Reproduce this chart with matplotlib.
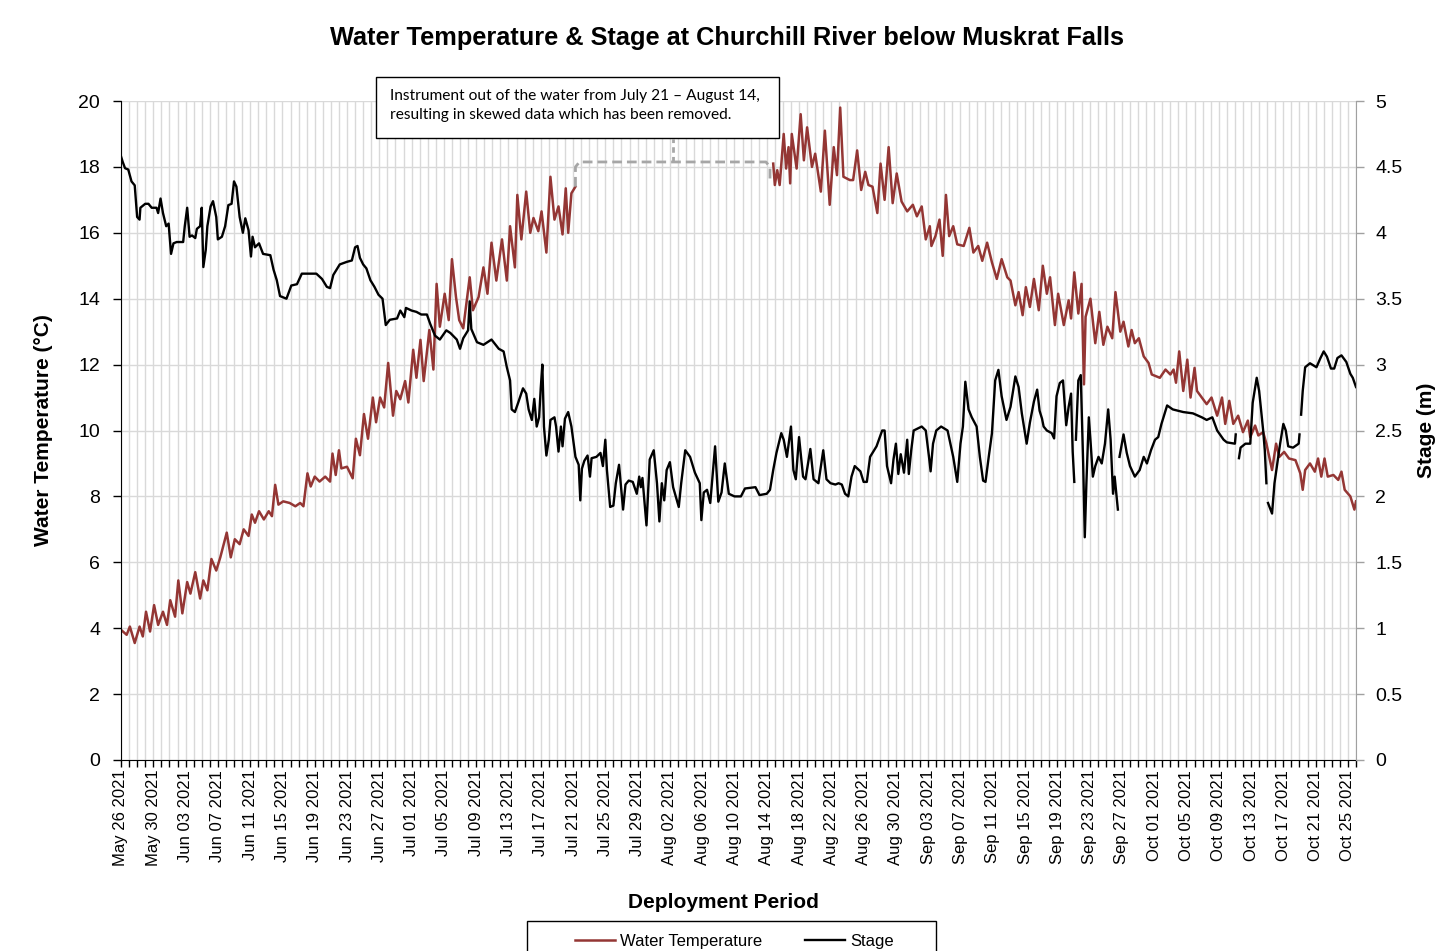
import datetime as dt

import matplotlib
matplotlib.use('Agg')
import matplotlib.pyplot as plt
import numpy as np
from matplotlib.patches import Rectangle
from matplotlib.ticker import FuncFormatter, MultipleLocator

plt.rcParams['font.family'] = ['Liberation Sans', 'DejaVu Sans']

start = dt.date(2021, 5, 26)
n_days = 153

# days since May 26 2021 00:00 / water temperature (degC); nan = instrument out of water
temp_day = [0.0, 0.7, 1.1, 1.7, 2.3, 2.7, 3.1, 3.6, 4.1, 4.6, 5.2, 5.7, 6.1, 6.7, 7.1, 7.6,
            8.2, 8.6, 9.2, 9.8, 10.2, 10.7, 11.2, 11.8, 12.3, 13.1, 13.6, 14.1, 14.7, 15.2,
            15.8, 16.2, 16.6, 17.1, 17.7, 18.3, 18.7, 19.1, 19.5, 20.1, 20.9, 21.6, 22.2,
            22.6, 23.1, 23.5, 24.0, 24.6, 25.3, 25.9, 26.2, 26.6, 27.0, 27.3, 28.0, 28.7,
            29.1, 29.6, 30.1, 30.6, 31.2, 31.6, 32.1, 32.6, 33.1, 33.7, 34.1, 34.6, 35.2,
            35.6, 36.2, 36.6, 37.1, 37.5, 38.2, 38.7, 39.1, 39.5, 40.1, 40.6, 41.0, 41.5,
            41.9, 42.4, 43.2, 43.6, 44.3, 44.9, 45.4, 45.9, 46.5, 47.2, 47.8, 48.2, 48.8,
            49.1, 49.6, 50.2, 50.7, 51.1, 51.7, 52.1, 52.7, 53.2, 53.7, 54.2, 54.7, 55.1,
            55.4, 55.8, 56.3, 68.0,
            80.8, 81.0, 81.3, 81.6, 82.1, 82.4, 82.7, 82.9, 83.1, 83.7, 84.2, 84.6, 85.0,
            85.6, 86.0, 86.7, 87.2, 87.8, 88.3, 88.7, 89.1, 89.5, 90.3, 90.7, 91.2, 91.7,
            92.2, 92.6, 93.1, 93.7, 94.1, 94.6, 95.1, 95.6, 96.1, 96.7, 97.4, 98.1, 98.6,
            99.2, 99.7, 100.2, 100.4, 100.9, 101.4, 101.8, 102.2, 102.6, 103.1, 103.6,
            104.4, 105.1, 105.6, 106.2, 106.7, 107.3, 107.9, 108.5, 109.1, 109.8, 110.2,
            110.8, 111.2, 111.7, 112.1, 112.6, 113.1, 113.7, 114.2, 114.7, 115.1, 115.7,
            116.1, 116.8, 117.4, 117.7, 118.1, 118.6, 119.0, 119.3, 119.5, 120.1, 120.7,
            121.2, 121.7, 122.2, 122.8, 123.2, 123.8, 124.2, 124.8, 125.2, 125.6, 126.1,
            126.7, 127.3, 127.7, 128.7, 129.4, 130.0, 130.4, 130.7, 131.1, 131.6, 132.1,
            132.5, 133.0, 133.3, 133.9, 134.5, 135.1, 135.8, 136.4, 136.8, 137.3, 137.8,
            138.4, 139.0, 139.6, 139.9, 140.5, 140.9, 141.5, 141.9, 142.6, 143.1, 143.5,
            144.1, 144.7, 145.5, 146.1, 146.4, 146.7, 147.3, 147.9, 148.3, 148.7, 149.1,
            149.5, 150.2, 150.8, 151.2, 151.6, 152.3, 152.8, 153.0]
temp_c = [3.95, 3.8, 4.05, 3.55, 4.05, 3.75, 4.5, 3.9, 4.7, 4.1, 4.5, 4.1, 4.85, 4.35, 5.45,
          4.45, 5.4, 5.05, 5.7, 4.9, 5.45, 5.15, 6.1, 5.75, 6.15, 6.9, 6.15, 6.7, 6.55, 7.0,
          6.8, 7.45, 7.2, 7.55, 7.3, 7.55, 7.4, 8.35, 7.75, 7.85, 7.8, 7.7, 7.8, 7.7, 8.7,
          8.3, 8.6, 8.45, 8.6, 8.45, 9.3, 8.65, 9.4, 8.85, 8.9, 8.55, 9.75, 9.25, 10.5,
          9.75, 11.0, 10.25, 11.0, 10.7, 12.05, 10.45, 11.2, 10.95, 11.5, 10.85, 12.45,
          11.6, 12.75, 11.5, 13.05, 11.85, 14.45, 13.15, 14.15, 13.35, 15.2, 14.05, 13.35,
          13.1, 14.65, 13.65, 14.05, 14.95, 14.15, 15.7, 14.55, 15.8, 14.55, 16.2, 14.95,
          17.15, 15.8, 17.25, 16.0, 16.45, 16.05, 16.65, 15.4, 17.7, 16.4, 16.8, 15.95,
          17.35, 16.0, 17.2, 17.4, np.nan,
          18.1, 17.45, 17.9, 17.45, 19.0, 17.95, 18.6, 17.5, 19.0, 17.95, 19.6, 18.2, 19.2,
          18.0, 18.4, 17.25, 19.1, 16.85, 18.6, 17.75, 19.8, 17.7, 17.6, 17.6, 18.5, 17.3,
          17.85, 17.45, 17.4, 16.6, 18.1, 17.0, 18.6, 16.9, 17.8, 16.95, 16.65, 16.85,
          16.5, 16.8, 15.8, 16.2, 15.6, 15.9, 16.4, 15.3, 17.15, 15.9, 16.2, 15.65, 15.6,
          16.15, 15.4, 15.6, 15.15, 15.7, 15.1, 14.6, 15.2, 14.65, 14.55, 13.8, 14.2, 13.5,
          14.35, 13.75, 14.6, 13.65, 15.0, 14.15, 14.65, 13.2, 14.15, 13.2, 13.95, 13.4,
          14.8, 13.55, 14.45, 11.4, 13.45, 14.0, 12.65, 13.6, 12.6, 13.15, 12.8, 14.2,
          13.0, 13.3, 12.55, 13.05, 12.65, 12.8, 12.25, 12.05, 11.7, 11.6, 11.85, 11.7,
          11.85, 11.45, 12.4, 11.2, 12.15, 11.0, 11.9, 11.2, 11.0, 10.8, 11.0, 10.45, 11.0,
          10.2, 10.9, 10.2, 10.45, 9.95, 10.3, 9.8, 10.15, 9.85, 9.95, 9.6, 8.8, 9.6, 9.2,
          9.35, 9.15, 9.1, 8.7, 8.2, 8.8, 9.0, 8.75, 9.15, 8.6, 9.15, 8.6, 8.65, 8.5, 8.75,
          8.2, 8.0, 7.6, 7.85]

# days since May 26 2021 00:00 / stage (m); nan = missing record
stage_day = [0.0, 0.2, 0.5, 0.9, 1.3, 1.7, 2.0, 2.3, 2.4, 3.0, 3.4, 3.8, 4.4, 4.6, 4.9, 5.2,
             5.6, 5.9, 6.2, 6.5, 6.9, 7.7, 7.9, 8.2, 8.5, 8.8, 9.2, 9.4, 9.8, 10.0, 10.2,
             10.5, 10.7, 11.1, 11.4, 11.8, 12.0, 12.5, 12.9, 13.3, 13.7, 14.0, 14.3, 14.7,
             15.1, 15.4, 15.8, 16.1, 16.3, 16.6, 17.1, 17.6, 18.5, 18.9, 19.3, 19.7, 20.5,
             21.1, 21.8, 22.4, 23.4, 24.2, 24.9, 25.5, 25.9, 26.3, 26.7, 27.1, 28.0, 28.6,
             29.0, 29.3, 29.6, 30.0, 30.4, 30.9, 31.4, 31.9, 32.4, 32.8, 33.3, 34.2, 34.6,
             35.1, 35.3, 36.0, 36.6, 37.2, 37.9, 38.3, 38.9, 39.5, 40.3, 40.8, 41.6, 42.0,
             42.4, 42.8, 43.0, 43.2, 43.4, 44.1, 44.9, 45.9, 46.8, 47.4, 47.8, 48.2, 48.4,
             48.8, 49.2, 49.8, 50.2, 50.5, 50.9, 51.2, 51.5, 51.8, 52.0, 52.2, 52.4, 52.7,
             53.0, 53.2, 53.7, 53.9, 54.2, 54.5, 54.7, 55.0, 55.4, 55.8, 56.3, 56.7, 56.9,
             57.1, 57.4, 57.8, 58.1, 58.3, 58.9, 59.4, 59.7, 60.0, 60.2, 60.6, 61.0, 61.3,
             61.7, 62.2, 62.5, 62.9, 63.4, 63.9, 64.2, 64.4, 64.6, 65.1, 65.5, 66.0, 66.4,
             66.7, 67.0, 67.3, 67.6, 68.0, 68.4, 69.1, 69.4, 69.9, 70.5, 71.1, 71.7, 71.9,
             72.2, 72.6, 73.0, 73.6, 74.0, 74.4, 74.8, 75.3, 76.0, 76.8, 77.3, 78.6, 79.1,
             80.0, 80.4, 80.8, 81.2, 81.8, 82.1, 82.5, 83.0, 83.3, 83.6, 84.0, 84.5, 84.8,
             85.4, 85.8, 86.4, 87.0, 87.4, 87.9, 88.5, 88.9, 89.3, 89.7, 90.1, 90.5, 90.9,
             91.6, 92.0, 92.4, 92.8, 93.6, 94.3, 94.6, 94.9, 95.4, 95.7, 96.0, 96.3, 96.6,
             97.0, 97.4, 97.6, 97.9, 98.2, 99.2, 99.7, 100.1, 100.3, 100.6, 101.0, 101.6,
             102.4, 103.1, 103.6, 104.0, 104.3, 104.6, 105.0, 105.4, 106.0, 106.4, 106.8,
             107.1, 107.5, 107.9, 108.3, 108.7, 109.1, 109.7, 110.2, 110.8, 111.2, 111.6,
             112.2, 112.6, 113.1, 113.5, 113.8, 114.1, 114.3, 114.7, 115.3, 115.6, 115.9,
             116.3, 116.7, 117.1, 117.4, 117.7, 117.9, 118.1, 118.2, 118.3, 118.6, 118.9,
             119.2, 119.4, 119.6, 119.9, 120.1, 120.4, 120.7, 121.1, 121.5, 121.9, 122.3,
             122.6, 122.9, 123.1, 123.5, 123.6, 123.7, 124.2, 124.6, 125.0, 125.6, 126.2,
             126.7, 127.1, 127.6, 128.1, 128.5, 128.9, 129.3, 129.6, 130.3, 131.6, 132.8,
             133.9, 134.5, 135.2, 135.8, 136.6, 137.0, 138.0, 138.1, 138.3, 138.5, 138.7,
             139.3, 139.9, 140.2, 140.7, 141.0, 141.5, 141.7, 141.9, 142.0, 142.1, 142.6,
             142.9, 143.2, 143.6, 144.0, 144.3, 144.6, 145.2, 145.9, 146.0, 146.1, 146.2,
             146.4, 146.7, 147.3, 148.1, 148.6, 149.0, 149.4, 149.9, 150.3, 150.7, 151.2,
             151.8, 152.3, 152.6, 153.0]
stage_m = [4.58, 4.54, 4.49, 4.48, 4.39, 4.36, 4.12, 4.10, 4.19, 4.22, 4.22, 4.19, 4.19,
           4.15, 4.26, 4.15, 4.05, 4.07, 3.84, 3.92, 3.93, 3.93, 4.05, 4.19, 3.97, 3.98,
           3.96, 4.03, 4.05, 4.19, 3.74, 3.87, 4.05, 4.20, 4.24, 4.12, 3.95, 3.97, 4.05,
           4.21, 4.22, 4.39, 4.35, 4.12, 4.00, 4.11, 4.02, 3.82, 3.97, 3.89, 3.92, 3.84,
           3.83, 3.72, 3.64, 3.52, 3.50, 3.60, 3.61, 3.69, 3.69, 3.69, 3.65, 3.59, 3.58,
           3.68, 3.72, 3.76, 3.78, 3.79, 3.89, 3.90, 3.81, 3.76, 3.73, 3.64, 3.59, 3.53,
           3.50, 3.30, 3.34, 3.35, 3.41, 3.36, 3.43, 3.41, 3.40, 3.38, 3.38, 3.31, 3.22,
           3.19, 3.26, 3.24, 3.19, 3.12, 3.20, 3.24, 3.26, 3.48, 3.27, 3.17, 3.15, 3.19,
           3.12, 3.10, 2.98, 2.88, 2.66, 2.64, 2.71, 2.82, 2.78, 2.66, 2.58, 2.74, 2.53,
           2.60, 2.82, 3.00, 2.53, 2.31, 2.43, 2.58, 2.60, 2.53, 2.34, 2.53, 2.38, 2.59,
           2.64, 2.53, 2.30, 2.24, 1.97, 2.21, 2.27, 2.31, 2.15, 2.29, 2.30, 2.33, 2.23,
           2.43, 2.20, 1.92, 1.93, 2.10, 2.24, 1.90, 2.09, 2.12, 2.11, 2.02, 2.15, 2.07,
           2.14, 1.78, 2.28, 2.35, 2.10, 1.81, 2.10, 1.97, 2.20, 2.26, 2.07, 1.92, 2.10,
           2.35, 2.30, 2.18, 2.10, 1.82, 2.03, 2.05, 1.95, 2.38, 1.96, 2.03, 2.25, 2.02,
           2.00, 2.00, 2.06, 2.07, 2.01, 2.02, 2.05, 2.20, 2.33, 2.48, 2.43, 2.30, 2.53,
           2.20, 2.13, 2.45, 2.15, 2.13, 2.36, 2.13, 2.10, 2.35, 2.13, 2.10, 2.09, 2.10,
           2.09, 2.02, 2.00, 2.15, 2.23, 2.19, 2.11, 2.11, 2.30, 2.38, 2.50, 2.50, 2.23,
           2.10, 2.28, 2.40, 2.17, 2.32, 2.18, 2.43, 2.17, 2.35, 2.50, 2.53, 2.50, 2.30,
           2.19, 2.40, 2.50, 2.53, 2.50, 2.30, 2.11, 2.40, 2.53, 2.87, 2.66, 2.60, 2.53,
           2.30, 2.12, 2.11, 2.30, 2.48, 2.88, 2.96, 2.76, 2.58, 2.68, 2.91, 2.83, 2.63,
           2.40, 2.56, 2.72, 2.81, 2.65, 2.59, 2.53, 2.50, 2.48, 2.44, 2.76, 2.86, 2.88,
           2.54, 2.68, 2.78, 2.34, 2.11, np.nan, 2.43, 2.88, 2.92, 2.25, 1.69, 2.10, 2.60,
           2.43, 2.15, 2.23, 2.30, 2.25, 2.40, 2.66, 2.43, 2.02, 2.15, 1.90, np.nan, 2.30,
           2.47, 2.33, 2.23, 2.15, 2.20, 2.30, 2.25, 2.35, 2.43, 2.45, 2.55, 2.63, 2.69,
           2.66, 2.64, 2.63, 2.60, 2.58, 2.60, 2.50, 2.43, 2.41, 2.40, 2.47, np.nan, 2.29,
           2.37, 2.40, 2.40, 2.71, 2.90, 2.80, 2.50, 2.35, 2.10, np.nan, 1.95, 1.87, 2.10,
           2.23, 2.40, 2.55, 2.50, 2.38, 2.37, 2.40, 2.47, np.nan, 2.62, 2.80, 2.98, 3.01,
           2.98, 3.05, 3.10, 3.06, 2.97, 2.97, 3.05, 3.07, 3.02, 2.93, 2.90, 2.83]

gap_note = ('Instrument out of the water from July 21 \u2013 August 14,\n'
            'resulting in skewed data which has been removed.')

temp_day = np.array(temp_day, dtype=float)
temp_c = np.array(temp_c, dtype=float)
stage_day = np.array(stage_day, dtype=float)
stage_m = np.array(stage_m, dtype=float)

red = '#943634'
grid_c = '#D9D9D9'

fig = plt.figure(figsize=(14.5, 9.51), dpi=100)
ax1 = fig.add_axes([121 / 1450, 1 - 760 / 951, 1235 / 1450, 659 / 951])
ax2 = ax1.twinx()

l1, = ax1.plot(temp_day, temp_c, color=red, lw=1.8, label='Water Temperature')
l2, = ax2.plot(stage_day, stage_m, color='black', lw=1.7, label='Stage')

# bracket over the removed temperature record
gap = np.where(np.isnan(temp_c))[0][0]
g0, t0 = temp_day[gap - 1], temp_c[gap - 1]
g1, t1 = temp_day[gap + 1] - 0.4, temp_c[gap + 1] - 0.6
lev = 18.15
ax1.plot([g0, g0, g0 + 0.5, g1 - 0.5, g1, g1], [t0, lev - 0.15, lev, lev, lev - 0.15, t1],
         color='#A6A6A6', lw=2, dashes=(3.5, 1.8), solid_capstyle='butt')
gm = (g0 + g1) / 2
ax1.plot([gm, gm], [lev, lev + 0.7], color='#A6A6A6', lw=2, dashes=(2, 1.5))

ax1.set_xlim(0, n_days)
ax1.set_ylim(0, 20)
ax2.set_ylim(0, 5)

ax1.xaxis.set_major_locator(MultipleLocator(4))
ax1.xaxis.set_minor_locator(MultipleLocator(1))
ax1.xaxis.set_major_formatter(FuncFormatter(
    lambda v, p: (start + dt.timedelta(days=int(round(v)))).strftime('%b %d %Y')))
ax1.yaxis.set_major_locator(MultipleLocator(2))
ax2.yaxis.set_major_locator(MultipleLocator(0.5))
ax2.yaxis.set_major_formatter(FuncFormatter(lambda v, p: f'{v:g}'))

ax1.set_axisbelow(True)
ax1.grid(axis='x', which='both', color=grid_c, lw=1.0)
ax1.grid(axis='y', which='major', color=grid_c, lw=1.0)

ax1.tick_params(axis='x', which='both', direction='out', length=5, width=1,
                labelrotation=90, labelsize=12, pad=2)
ax1.tick_params(axis='y', direction='out', length=6, width=1, labelsize=14, pad=9)
ax2.tick_params(axis='y', direction='out', length=6, width=1, labelsize=14, pad=8,
                color='#A0A0A0')

for s in ['top', 'right']:
    ax1.spines[s].set_visible(False)
for s in ['top', 'left', 'bottom']:
    ax2.spines[s].set_visible(False)
ax2.spines['right'].set_color('#A0A0A0')

ax1.set_ylabel('Water Temperature (\u00b0C)', fontsize=15, fontweight='bold')
ax1.yaxis.set_label_coords(-0.055, 0.5)
ax2.set_ylabel('Stage (m)', fontsize=15, fontweight='bold')
ax2.yaxis.set_label_coords(1.049, 0.5)

fig.text(727 / 1450, 1 - 38 / 951, 'Water Temperature & Stage at Churchill River below Muskrat Falls',
         ha='center', va='center', fontsize=18.3, fontweight='bold')
fig.text(723.5 / 1450, 1 - 903 / 951, 'Deployment Period', ha='center', va='center',
         fontsize=15, fontweight='bold')

# note box
fig.add_artist(Rectangle((376 / 1450, 1 - 138 / 951), 403 / 1450, 61 / 951,
                         transform=fig.transFigure, facecolor='white', edgecolor='black', lw=1))
fig.text(390 / 1450, 1 - 105.5 / 951, gap_note, ha='left', va='center', fontsize=11.2,
         family=['Lato', 'DejaVu Sans'], linespacing=1.4)

# legend
fig.add_artist(Rectangle((527 / 1450, -0.02), 409 / 1450, 0.02 + 30 / 951,
                         transform=fig.transFigure, fill=False, edgecolor='black', lw=1))
fig.legend(handles=[l1, l2], loc='upper center', bbox_to_anchor=(734.5 / 1450, 1 - 921 / 951),
           ncol=2, frameon=False, fontsize=12, handlelength=2.4, handletextpad=0.3,
           columnspacing=2.6, borderpad=0.3)

fig.savefig('out.png', dpi=100)
